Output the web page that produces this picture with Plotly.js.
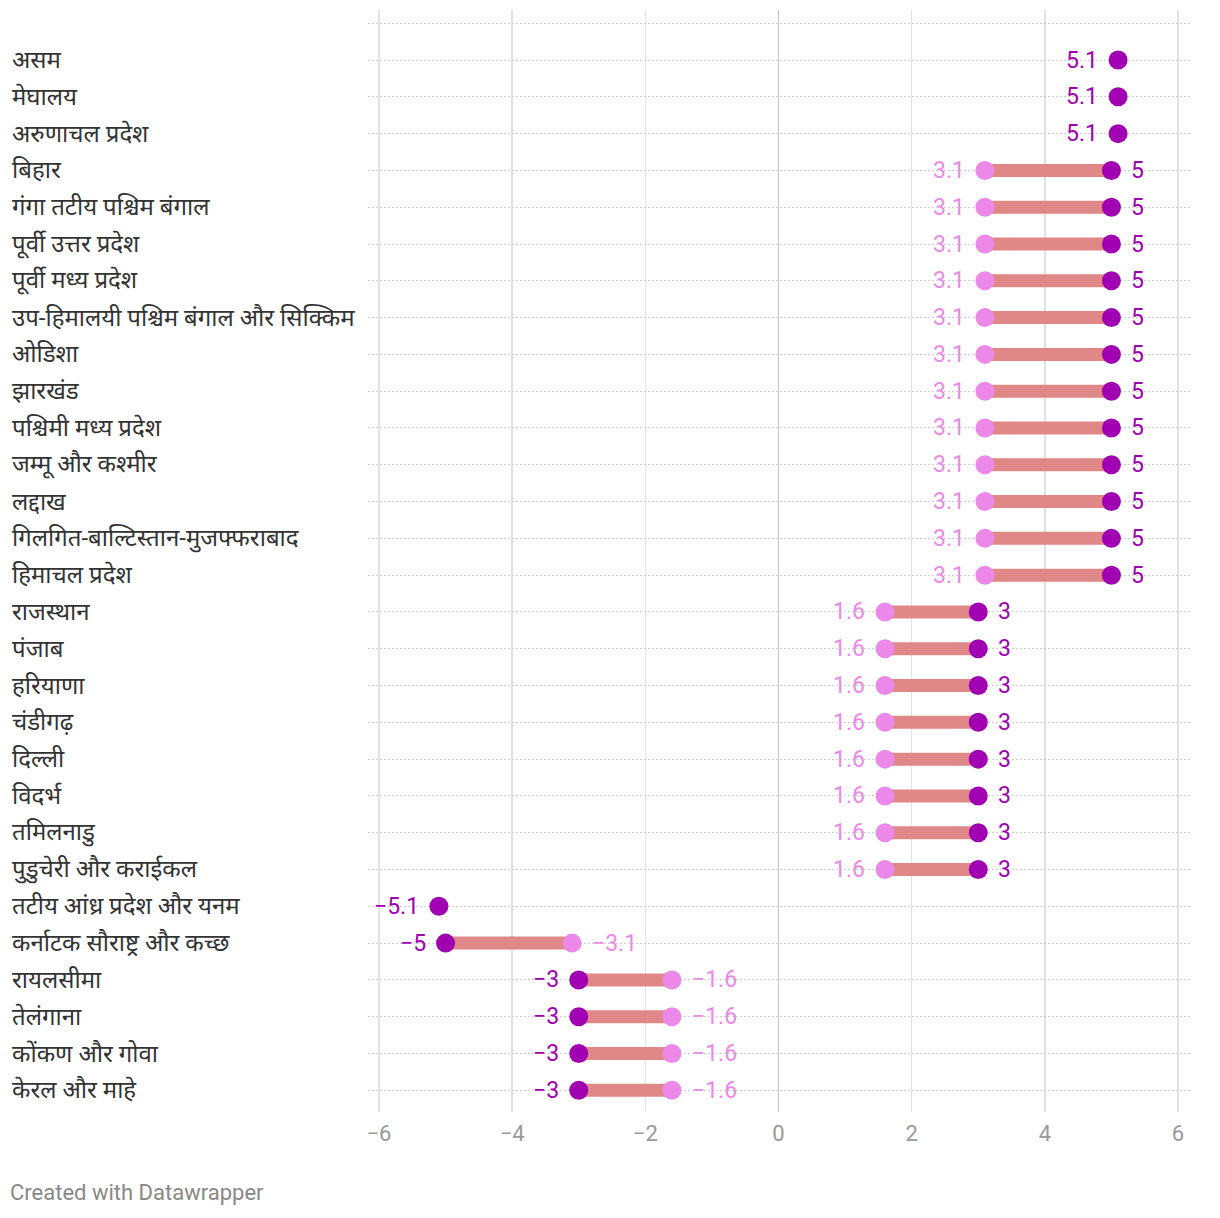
<!DOCTYPE html>
<html><head><meta charset="utf-8">
<script src="https://cdn.plot.ly/plotly-3.0.1.min.js"></script>
<style>body{margin:0;background:#fff}#c{width:1220px;height:1218px}</style>
</head><body><div id="c"></div>
<script>
const regions = ["असम","मेघालय","अरुणाचल प्रदेश","बिहार","गंगा तटीय पश्चिम बंगाल","पूर्वी उत्तर प्रदेश","पूर्वी मध्य प्रदेश","उप-हिमालयी पश्चिम बंगाल और सिक्किम","ओडिशा","झारखंड","पश्चिमी मध्य प्रदेश","जम्मू और कश्मीर","लद्दाख","गिलगित-बाल्टिस्तान-मुजफ्फराबाद","हिमाचल प्रदेश","राजस्थान","पंजाब","हरियाणा","चंडीगढ़","दिल्ली","विदर्भ","तमिलनाडु","पुडुचेरी और कराईकल","तटीय आंध्र प्रदेश और यनम","कर्नाटक सौराष्ट्र और कच्छ","रायलसीमा","तेलंगाना","कोंकण और गोवा","केरल और माहे"];
const darkValues = [5.1,5.1,5.1,5,5,5,5,5,5,5,5,5,5,5,5,3,3,3,3,3,3,3,3,-5.1,-5,-3,-3,-3,-3];
const lightValues = [null,null,null,3.1,3.1,3.1,3.1,3.1,3.1,3.1,3.1,3.1,3.1,3.1,3.1,1.6,1.6,1.6,1.6,1.6,1.6,1.6,1.6,null,-3.1,-1.6,-1.6,-1.6,-1.6];
const xTicks = [-6,-4,-2,0,2,4,6];

const DARK = '#a100b2', LIGHT = '#ec88e8', BAR = '#e08787';
const FONT = "Roboto, 'Noto Sans Devanagari', 'Noto Sans', sans-serif";
const rows = regions.map((_, i) => i);
const fmt = v => (v < 0 ? '\u2212' + Math.abs(v) : String(v));

// connecting bars
const bx = [], by = [];
rows.forEach(i => {
  if (lightValues[i] !== null) { bx.push(lightValues[i], darkValues[i], null); by.push(i, i, null); }
});

const traces = [
  {x: bx, y: by, mode: 'lines', line: {color: BAR, width: 13}, hoverinfo: 'skip', showlegend: false},
  {x: lightValues, y: rows, mode: 'markers', marker: {color: LIGHT, size: 19}, showlegend: false, cliponaxis: false},
  {x: darkValues, y: rows, mode: 'markers', marker: {color: DARK, size: 19}, showlegend: false, cliponaxis: false}
];

const L = 368, R = 30, T = 10, B = 106, W = 1220;
const pw = W - L - R;
const annotations = regions.map((r, i) => ({
  text: r, xref: 'paper', yref: 'y', x: (10 - L) / pw, y: i, xanchor: 'left', yanchor: 'middle',
  showarrow: false, font: {size: 24, color: '#333', family: FONT}
}));
const GAP = 18;
rows.forEach(i => {
  const d = darkValues[i], l = lightValues[i];
  const darkRight = l !== null && d > l;
  annotations.push({text: fmt(d), x: d, y: i, xref: 'x', yref: 'y', showarrow: false,
    xanchor: darkRight ? 'left' : 'right', xshift: darkRight ? GAP : -GAP, yanchor: 'middle',
    font: {size: 23, color: DARK, family: FONT}});
  if (l !== null) {
    annotations.push({text: fmt(l), x: l, y: i, xref: 'x', yref: 'y', showarrow: false,
      xanchor: darkRight ? 'right' : 'left', xshift: darkRight ? -GAP : GAP, yanchor: 'middle',
      font: {size: 23, color: LIGHT, family: FONT}});
  }
});
annotations.push({text: 'Created with Datawrapper', xref: 'paper', yref: 'paper',
  x: (8 - L) / pw, y: -(1192 - (1218 - B)) / (1218 - T - B), xanchor: 'left', yanchor: 'middle',
  showarrow: false, font: {size: 22, color: '#888', family: FONT}});

const layout = {
  width: 1220, height: 1218,
  margin: {l: L, r: R, t: T, b: B},
  paper_bgcolor: '#fff', plot_bgcolor: '#fff',
  font: {family: FONT},
  xaxis: {range: [-6.165, 6.18], tickvals: xTicks, ticktext: xTicks.map(fmt),
    showgrid: true, gridcolor: '#e2e2e2', gridwidth: 1.5,
    zeroline: true, zerolinecolor: '#c4c4c4', zerolinewidth: 1.5,
    showline: false, ticks: '', ticklen: 0, ticklabelstandoff: 6,
    tickfont: {size: 22, color: '#9a9a9a', family: FONT}, fixedrange: true},
  yaxis: {range: [28.59, -1.36], tickvals: [-1].concat(rows), showticklabels: false,
    showgrid: true, gridcolor: '#cfcfcf', griddash: '2px,2px', gridwidth: 1,
    zeroline: false, showline: false, ticks: '', fixedrange: true},
  annotations: annotations,
  showlegend: false
};
Plotly.newPlot('c', traces, layout, {displayModeBar: false, staticPlot: true});
</script></body></html>
